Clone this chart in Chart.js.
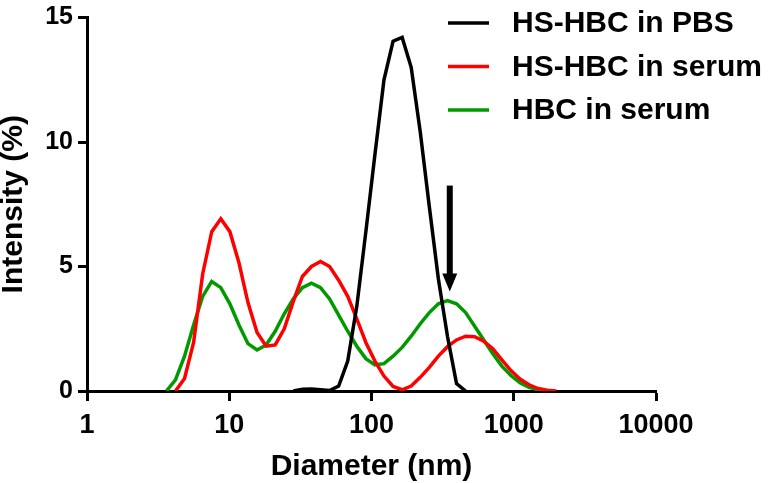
<!DOCTYPE html>
<html><head><meta charset="utf-8">
<script src="https://cdn.jsdelivr.net/npm/chart.js@4.4.1/dist/chart.umd.min.js"></script>
<style>html,body{margin:0;padding:0;background:#fff}#wrap{width:773px;height:483px}</style>
</head><body><div id="wrap"><canvas id="c" width="773" height="483"></canvas></div>
<script>
// Diameter bins (nm)
const sizes = [3.122, 3.615, 4.187, 4.849, 5.615, 6.503, 7.531, 8.721, 10.10, 11.70,
  13.54, 15.69, 18.17, 21.04, 24.36, 28.21, 32.67, 37.84, 43.82, 50.75,
  58.77, 68.06, 78.82, 91.28, 105.7, 122.4, 141.8, 164.2, 190.1, 220.2,
  255.0, 295.3, 342.0, 396.1, 458.7, 531.2, 615.1, 712.4, 825.0, 955.4,
  1106, 1281, 1484, 1718, 1990, 2305];
// Intensity (%)
const hsHbcPbs = [null, null, null, null, null, null, null, null, null, null,
  null, null, null, null, null, 0, 0.07, 0.08, 0.05, 0.02,
  0.2, 1.2, 3.4, 6.4, 9.5, 12.5, 14.05, 14.2, 13.0, 10.4,
  7.4, 4.5, 2.2, 0.3, 0, null, null, null, null, null,
  null, null, null, null, null, null];
const hsHbcSerum = [null, null, 0, 0.5, 1.95, 4.7, 6.4, 6.92, 6.4, 5.15,
  3.55, 2.35, 1.8, 1.85, 2.5, 3.6, 4.6, 5.0, 5.2, 5.0,
  4.45, 3.8, 2.9, 1.95, 1.2, 0.6, 0.18, 0.05, 0.2, 0.55,
  0.95, 1.4, 1.78, 2.05, 2.2, 2.18, 2.0, 1.7, 1.25, 0.82,
  0.48, 0.25, 0.1, 0.03, 0, null];
const hbcSerum = [null, 0, 0.45, 1.4, 2.65, 3.8, 4.4, 4.15, 3.5, 2.65,
  1.9, 1.65, 1.85, 2.4, 3.1, 3.7, 4.15, 4.33, 4.15, 3.7,
  3.05, 2.4, 1.8, 1.3, 1.05, 1.1, 1.4, 1.75, 2.2, 2.7,
  3.15, 3.5, 3.63, 3.5, 3.15, 2.6, 2.05, 1.5, 1.0, 0.62,
  0.33, 0.15, 0.05, 0, null, null];

const seriesNames = ['HS-HBC in PBS', 'HS-HBC in serum', 'HBC in serum'];
const seriesColors = ['#000000', '#ff0000', '#009a00'];
const xTickValues = [1, 10, 100, 1000, 10000];
const xTickLabels = ['1', '10', '100', '1000', '10000'];
const yTickValues = [0, 5, 10, 15];
// arrow annotation (data coords)
const arrowX = 355;
const arrowFromY = 8.25;
const arrowToY = 4.0;

const FONT = "'Liberation Sans', Arial, sans-serif";
const toPts = vals => sizes.map((s, i) => ({x: s, y: vals[i]}));
const allSeries = [hsHbcPbs, hsHbcSerum, hbcSerum];

const overlay = {
  id: 'overlay',
  afterDatasetsDraw(chart) {
    const ctx = chart.ctx;
    const xs = chart.scales.x, ys = chart.scales.y;
    ctx.save();
    // arrow
    const ax = xs.getPixelForValue(arrowX);
    const y1 = ys.getPixelForValue(arrowFromY);
    const y2 = ys.getPixelForValue(arrowToY);
    const headH = 18, headW = 7.5, shaftW = 6;
    ctx.fillStyle = '#000';
    ctx.fillRect(ax - shaftW / 2, y1, shaftW, (y2 - headH) - y1 + 1);
    ctx.beginPath();
    ctx.moveTo(ax - headW, y2 - headH);
    ctx.lineTo(ax + headW, y2 - headH);
    ctx.lineTo(ax, y2);
    ctx.closePath();
    ctx.fill();
    // legend
    ctx.font = "bold 30px " + FONT;
    ctx.textAlign = 'left';
    ctx.textBaseline = 'middle';
    chart.data.datasets.forEach((ds, i) => {
      const ly = 23 + i * 43.5;
      ctx.strokeStyle = ds.borderColor;
      ctx.lineWidth = 3.5;
      ctx.beginPath();
      ctx.moveTo(448, ly);
      ctx.lineTo(489, ly);
      ctx.stroke();
      ctx.fillStyle = '#000';
      ctx.fillText(ds.label, 512, ly + 1);
    });
    ctx.restore();
  }
};

new Chart(document.getElementById('c'), {
  type: 'line',
  data: {
    datasets: allSeries.map((vals, i) => ({
      label: seriesNames[i],
      data: toPts(vals),
      borderColor: seriesColors[i],
      backgroundColor: seriesColors[i],
      borderWidth: 3.5,
      pointRadius: 0,
      tension: 0,
      spanGaps: false,
      fill: false
    }))
  },
  options: {
    responsive: false,
    animation: false,
    devicePixelRatio: 1,
    layout: {padding: {top: 13, right: 117, left: 0, bottom: 0}},
    plugins: {legend: {display: false}, tooltip: {enabled: false}},
    scales: {
      x: {
        type: 'logarithmic',
        min: 1, max: 10000,
        afterBuildTicks: s => { s.ticks = xTickValues.map(v => ({value: v})); },
        afterFit: s => { s.height = 92; },
        ticks: {
          callback: (v) => { const k = xTickValues.indexOf(v); return k >= 0 ? xTickLabels[k] : ''; },
          font: {family: FONT, size: 27, weight: 'bold', lineHeight: 1},
          color: '#000', padding: 11, maxRotation: 0, autoSkip: false
        },
        grid: {display: true, drawOnChartArea: false, drawTicks: true, tickLength: 10, tickWidth: 3, tickColor: '#000'},
        border: {display: true, color: '#000', width: 3},
        title: {display: true, text: 'Diameter (nm)', color: '#000',
          font: {family: FONT, size: 30, weight: 'bold', lineHeight: 1}, padding: {top: 0, bottom: 1}}
      },
      y: {
        min: 0, max: 15,
        afterBuildTicks: s => { s.ticks = yTickValues.map(v => ({value: v})); },
        afterFit: s => { s.width = 87; },
        ticks: {
          font: {family: FONT, size: 25, weight: 'bold', lineHeight: 1},
          color: '#000', padding: 5
        },
        grid: {display: true, drawOnChartArea: false, drawTicks: true, tickLength: 9, tickWidth: 3, tickColor: '#000'},
        border: {display: true, color: '#000', width: 3},
        title: {display: true, text: 'Intensity (%)', color: '#000',
          font: {family: FONT, size: 30, weight: 'bold', lineHeight: 1}, padding: {top: -1, bottom: 0}}
      }
    }
  },
  plugins: [overlay]
});
</script>
</body></html>
